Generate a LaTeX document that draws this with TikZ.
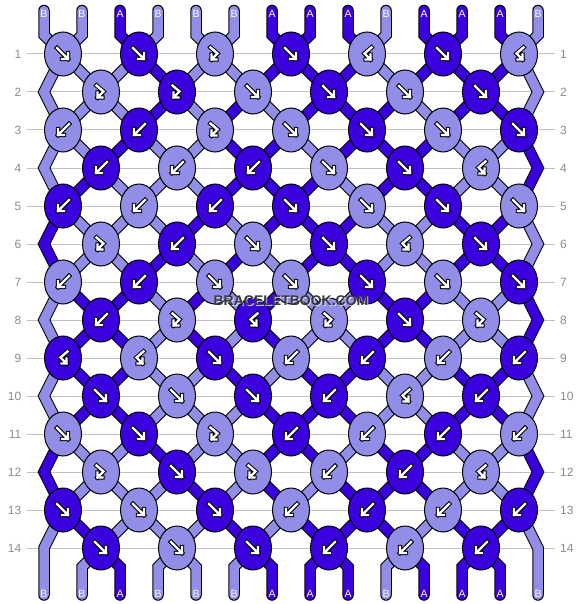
\documentclass[tikz,border=0pt]{standalone}
\usepackage{fontspec}
\setmainfont{Liberation Sans}
\usetikzlibrary{shapes.geometric}
\pgfdeclarelayer{gridlayer}
\pgfdeclarelayer{strandlayer}
\pgfsetlayers{gridlayer,strandlayer,main}
\definecolor{colD}{RGB}{59,0,222}
\definecolor{colL}{RGB}{146,142,232}
\definecolor{gridc}{RGB}{192,192,192}
\definecolor{labc}{RGB}{140,140,140}
\definecolor{markc}{RGB}{58,58,58}
\expandafter\def\csname Srow0\endcsname{{0,0,1,0,0,0,1,1,1,0,1,1,1,0}}
\expandafter\def\csname Srow1\endcsname{{0,0,0,1,0,0,1,1,1,0,1,1,1,0}}
\expandafter\def\csname Srow2\endcsname{{0,0,0,1,0,1,0,1,1,1,0,1,1,0}}
\expandafter\def\csname Srow3\endcsname{{0,0,1,0,0,1,1,0,1,1,1,0,0,1}}
\expandafter\def\csname Srow4\endcsname{{0,1,0,0,0,1,1,1,0,1,1,0,0,1}}
\expandafter\def\csname Srow5\endcsname{{1,0,0,0,1,0,1,1,1,0,0,1,1,0}}
\expandafter\def\csname Srow6\endcsname{{1,0,0,1,0,1,0,1,1,0,0,1,1,0}}
\expandafter\def\csname Srow7\endcsname{{0,1,1,0,1,0,1,0,0,1,1,0,0,1}}
\expandafter\def\csname Srow8\endcsname{{0,1,1,0,1,0,1,0,0,1,1,0,0,1}}
\expandafter\def\csname Srow9\endcsname{{0,1,1,0,0,1,0,1,1,0,0,1,1,0}}
\expandafter\def\csname Srow10\endcsname{{0,1,1,0,0,0,1,1,1,0,0,1,1,0}}
\expandafter\def\csname Srow11\endcsname{{1,0,0,1,0,0,1,1,0,1,1,0,0,1}}
\expandafter\def\csname Srow12\endcsname{{1,0,0,0,1,0,1,0,1,1,1,0,0,1}}
\expandafter\def\csname Srow13\endcsname{{0,1,0,0,0,1,0,1,1,1,0,1,1,0}}
\expandafter\def\csname Srow14\endcsname{{0,0,1,0,0,0,1,1,1,0,1,1,1,0}}
\newcommand\strandpass[1]{%
\foreach \r in {0,...,14}{%
 \foreach \p in {1,...,14}{%
  \expandafter\let\expandafter\arr\csname Srow\r\endcsname
  \pgfmathtruncatemacro\v{\arr[\p-1]}%
  \ifnum#1=0 \def\scol{black}\def\sw{11.5pt}\else\ifnum\v=1 \def\scol{colD}\else\def\scol{colL}\fi\def\sw{9.5pt}\fi
  \pgfmathtruncatemacro\rn{\r+1}%
  \pgfmathtruncatemacro\rnn{\r+2}%
  \pgfmathtruncatemacro\edg{(\p==1)||(\p==14)}%
  \pgfmathtruncatemacro\rodd{mod(\r,2)}%
  \tikzset{strandnow/.style={line width=\sw, draw=\scol, line cap=round, line join=miter}}%
  \ifnum\r=0
    \draw[strandnow] (top-\p) -- (tb-\p) -- (c-1-\p.center);
  \else\ifnum\r=14
    \ifnum\edg=0 \draw[strandnow] (c-14-\p.center) -- (bb-\p) -- (bot-\p);\fi
  \else\ifnum\edg=1
    \ifnum\rodd=1
      \ifnum\r=13 \draw[strandnow] (c-13-\p.center) -- (c-14-\p) -- (bot-\p);
      \else \draw[strandnow] (c-\r-\p.center) -- (c-\rn-\p) -- (c-\rnn-\p.center);\fi
    \fi
  \else
    \draw[strandnow] (c-\r-\p.center) -- (c-\rn-\p.center);
  \fi\fi\fi
 }}}
\begin{document}
\begin{tikzpicture}[x=1pt,y=-1pt,
  knotnode/.style={ellipse, draw=black, line width=1pt, minimum width=37pt, minimum height=44pt, inner sep=0pt},
  iconb/.style={line width=4.4pt, draw=black, line cap=rect, line join=miter},
  iconw/.style={line width=2.4pt, draw=white, line cap=rect, line join=miter},
  pics/kF/.style={code={\draw[iconb] (-6,-6)--(5,5) (5,-1)--(5,5)--(-1,5); \draw[iconw] (-6,-6)--(5,5) (5,-1)--(5,5)--(-1,5);}},
  pics/kB/.style={code={\draw[iconb] (6,-6)--(-5,5) (-5,-1)--(-5,5)--(1,5); \draw[iconw] (6,-6)--(-5,5) (-5,-1)--(-5,5)--(1,5);}},
  pics/kFB/.style={code={\draw[iconb] (-4.5,-6.5)--(2.5,-0.5)--(-3.5,5.5) (-3.5,0.5)--(-3.5,5.5)--(1.5,5.5); \draw[iconw] (-4.5,-6.5)--(2.5,-0.5)--(-3.5,5.5) (-3.5,0.5)--(-3.5,5.5)--(1.5,5.5);}},
  pics/kBF/.style={code={\draw[iconb] (4.5,-6.5)--(-2.5,-0.5)--(3.5,5.5) (3.5,0.5)--(3.5,5.5)--(-1.5,5.5); \draw[iconw] (4.5,-6.5)--(-2.5,-0.5)--(3.5,5.5) (3.5,0.5)--(3.5,5.5)--(-1.5,5.5);}},
  rowlab/.style={text=labc, font=\fontsize{12}{14}\selectfont, inner sep=0pt},
  strlab/.style={text=white, font=\fontsize{10.5}{12}\selectfont, inner sep=0pt},
]
\useasboundingbox (0,0) rectangle (582,604);
\begin{pgfonlayer}{gridlayer}
\fill[white] (0,0) rectangle (582,604);
\foreach \r in {1,...,14}{
  \pgfmathsetmacro\ky{54+38*(\r-1)}
  \draw[gridc, line width=1pt] (27,\ky) -- (555,\ky);
  \node[rowlab, anchor=east] (ll-\r) at (21.5,\ky) {\r};
  \node[rowlab, anchor=west] (rl-\r) at (560,\ky) {\r};
}
\end{pgfonlayer}
\foreach \lt [count=\p] in {B,B,A,B,B,B,A,A,A,B,A,A,A,B}{
  \pgfmathsetmacro\sx{44+38*(\p-1)}
  \coordinate (top-\p) at (\sx,10.5);
  \coordinate (tb-\p) at (\sx,35);
  \coordinate (bb-\p) at (\sx,567);
  \coordinate (bot-\p) at (\sx,595);
}
\foreach \r/\knots in {
  1/{L/F,D/F,L/FB,D/F,L/BF,D/F,L/BF},
  2/{L/FB,D/FB,L/F,D/F,L/F,D/F},
  3/{L/B,D/B,L/FB,L/F,D/F,L/F,D/F},
  4/{D/B,L/B,D/B,L/F,D/F,L/BF},
  5/{D/B,L/B,D/B,D/F,L/F,D/F,L/F},
  6/{L/FB,D/B,L/F,D/F,L/BF,D/F},
  7/{L/B,D/B,L/F,L/F,D/F,L/F,D/F},
  8/{D/B,L/FB,D/BF,L/FB,D/F,L/FB},
  9/{D/BF,L/BF,D/F,L/B,D/B,L/B,D/B},
  10/{D/F,L/F,D/F,D/B,L/BF,D/B},
  11/{L/F,D/F,L/FB,D/B,L/B,D/B,L/B},
  12/{L/FB,D/F,L/FB,L/B,D/B,L/BF},
  13/{D/F,L/F,D/F,L/B,D/B,L/B,D/B},
  14/{D/F,L/F,D/F,D/B,L/B,D/B}}{
  \pgfmathtruncatemacro\rodd{mod(\r,2)}
  \pgfmathsetmacro\ky{54+38*(\r-1)}
  \ifnum\rodd=0 \coordinate (c-\r-1) at (44,\ky); \coordinate (c-\r-14) at (538,\ky); \fi
  \foreach \kc/\kt [count=\kn] in \knots {
    \ifnum\rodd=1 \pgfmathsetmacro\kx{63+76*(\kn-1)}\pgfmathtruncatemacro\pa{2*\kn-1}\else\pgfmathsetmacro\kx{101+76*(\kn-1)}\pgfmathtruncatemacro\pa{2*\kn}\fi
    \pgfmathtruncatemacro\pb{\pa+1}
    \node[knotnode, fill=col\kc, alias=c-\r-\pb] (c-\r-\pa) at (\kx,\ky) {};
    \pic at (\kx,\ky) {k\kt};
  }
}
\begin{pgfonlayer}{strandlayer}
\strandpass{0}
\strandpass{1}
\end{pgfonlayer}
\foreach \lt [count=\p] in {B,B,A,B,B,B,A,A,A,B,A,A,A,B}{
  \pgfmathsetmacro\sx{44+38*(\p-1)}
  \node[strlab] (tl-\p) at (\sx,13.5) {\lt};
  \node[strlab] (bl-\p) at (\sx,594) {\lt};
}
\node[font=\bfseries\fontsize{14}{16}\selectfont, text=white, opacity=0.7, inner sep=0pt] (wmh) at (292,302) {BRACELETBOOK.COM};
\node[font=\bfseries\fontsize{14}{16}\selectfont, text=markc, inner sep=0pt] (wm) at (291,301) {BRACELETBOOK.COM};
\end{tikzpicture}
\end{document}
